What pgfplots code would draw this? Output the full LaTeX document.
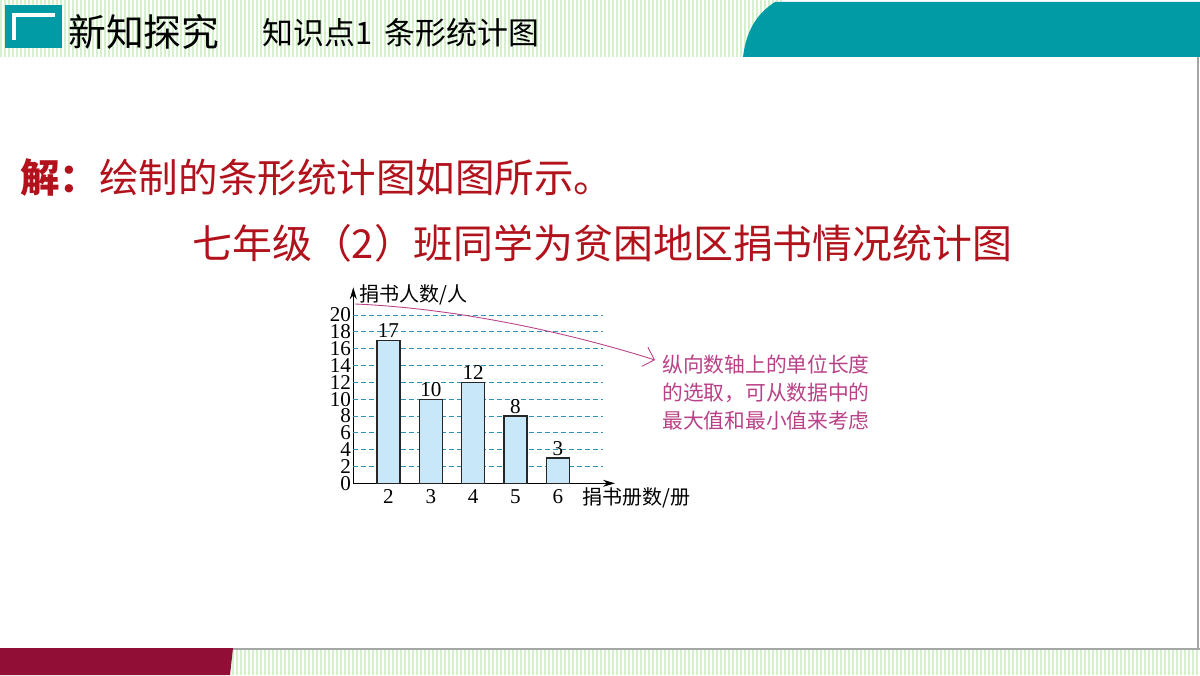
\documentclass[border=0pt]{standalone}
\usepackage{pgfplots}
\pgfplotsset{compat=1.18}
\usepackage{fontspec}
\setmainfont{Liberation Serif}
\newfontfamily\cjk{Noto Sans CJK SC}
\usetikzlibrary{arrows.meta}

\definecolor{tealc}{RGB}{0,155,165}
\definecolor{stripe}{RGB}{214,240,204}
\definecolor{wine}{RGB}{145,15,55}
\definecolor{headred}{RGB}{178,18,28}
\definecolor{notec}{RGB}{185,65,135}
\definecolor{barc}{RGB}{200,232,250}
\definecolor{gridc}{RGB}{50,145,185}

\begin{document}
\begin{tikzpicture}[x=0.2mm,y=-0.2mm]
\useasboundingbox (0,0) rectangle (1200,675);
\fill[white] (0,0) rectangle (1200,675);

% header band
\foreach \x in {0,4,...,780} \fill[stripe] (\x,0) rectangle ++(1.6,57);
\fill[tealc] (743,57) .. controls (746,32) and (756,14) .. (775,2) -- (1200,2) -- (1200,57) -- cycle;
\fill[tealc] (5,5) rectangle (62,48);
\fill[white] (12,13) rectangle (16,40);
\fill[white] (12,13) rectangle (55,17);
\node[anchor=west, inner sep=0pt] at (68,32) {\cjk\fontsize{21.5}{21.5}\selectfont 新知探究};
\node[anchor=west, inner sep=0pt] at (262,33) {\cjk\fontsize{17.6}{17.6}\selectfont 知识点1\hspace{0.4em}条形统计图};

% footer band
\foreach \x in {232,236,...,1196} \fill[stripe] (\x,650) rectangle ++(1.6,25);
\fill[wine] (0,648) -- (233,648) -- (230,675) -- (0,675) -- cycle;
\draw[gray!70, line width=1.2pt] (233,649) -- (1200,649);
\draw[gray!70, line width=1pt] (1198,57) -- (1198,649);

% headings
\node[anchor=west, inner sep=0pt, text=headred] at (20,178) {\cjk\bfseries\fontsize{22.5}{22.5}\selectfont 解：\mdseries 绘制的条形统计图如图所示。};
\node[anchor=west, inner sep=0pt, text=headred] at (192,243) {\cjk\fontsize{22.7}{22.7}\selectfont 七年级（2）班同学为贫困地区捐书情况统计图};

% chart
\coordinate (O) at (353.3,483.3);
\begin{axis}[
  at={(O)}, anchor=south west,
  scale only axis, width=52.34mm, height=39.2mm,
  xmin=1.17, xmax=7.35, ymin=0, ymax=23.3,
  axis lines=left,
  axis line style={line width=0.6pt, -{Stealth[length=2.4mm,width=1.4mm]}},
  xtick={2,3,4,5,6}, ytick={0,2,...,20},
  major tick length=0pt,
  ticklabel style={font=\fontsize{12}{12}\selectfont},
  yticklabel style={inner sep=0pt, xshift=-0.4mm},
  /pgf/number format/assume math mode=true,
  ybar, bar width=4.6mm,
  nodes near coords,
  nodes near coords style={font=\fontsize{12}{12}\selectfont, inner sep=1pt},
  clip=false,
]
\pgfplotsinvokeforeach{2,4,...,20}{\draw[gridc, line width=0.5pt, dash pattern=on 1mm off 0.6mm] (axis cs:1.17,#1) -- (axis cs:7.07,#1);}
\addplot[draw=black!85, line width=0.7pt, fill=barc] coordinates {(2,17) (3,10) (4,12) (5,8) (6,3)};
\end{axis}

\node[anchor=west, inner sep=0pt] at (359,295) {\cjk\fontsize{11.4}{11.4}\selectfont 捐书人数/人};
\node[anchor=west, inner sep=0pt] at (582,498) {\cjk\fontsize{11.4}{11.4}\selectfont 捐书册数/册};

% note
\draw[notec, line width=0.5pt, -{Straight Barb[length=2mm]}] (355,304) .. controls (450,308) and (560,330) .. (655,360);
\node[anchor=north west, inner sep=0pt, align=left, text=notec, font=\cjk\fontsize{11.8}{15.9}\selectfont] at (662,355) {纵向数轴上的单位长度\\的选取，可从数据中的\\最大值和最小值来考虑};
\end{tikzpicture}
\end{document}
